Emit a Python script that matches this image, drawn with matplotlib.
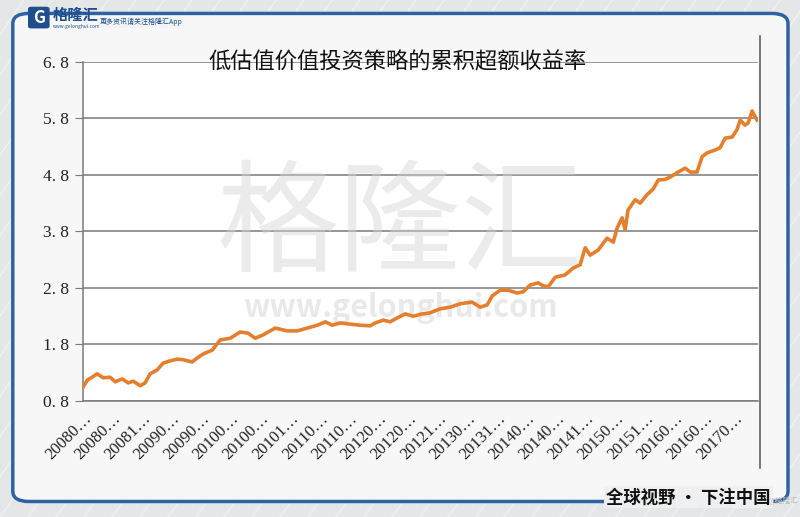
import matplotlib
matplotlib.use("Agg")
import matplotlib.pyplot as plt
from matplotlib.patches import FancyBboxPatch
from matplotlib.lines import Line2D

plt.rcParams['font.family'] = ['Noto Sans CJK SC', 'DejaVu Sans']

# position along the category axis (in label steps) and cumulative excess return
period = [0.00, 0.14, 0.30, 0.47, 0.68, 0.91, 1.08, 1.32, 1.52, 1.69, 1.93, 2.09,
          2.26, 2.50, 2.70, 2.94, 3.18, 3.38, 3.68, 3.85, 4.05, 4.36, 4.63, 4.97,
          5.30, 5.57, 5.81, 6.08, 6.49, 6.89, 7.23, 7.57, 7.91, 8.18, 8.41, 8.68,
          9.02, 9.36, 9.70, 9.86, 10.14, 10.37, 10.61, 10.88, 11.15, 11.45, 11.72,
          12.06, 12.40, 12.74, 13.14, 13.41, 13.65, 13.82, 14.09, 14.36, 14.66,
          14.86, 15.10, 15.37, 15.54, 15.71, 15.95, 16.28, 16.55, 16.79, 16.96,
          17.13, 17.40, 17.70, 17.91, 18.04, 18.21, 18.31, 18.41, 18.65, 18.82,
          19.05, 19.26, 19.43, 19.66, 19.83, 20.07, 20.34, 20.51, 20.74, 20.91,
          21.08, 21.35, 21.52, 21.69, 21.93, 22.09, 22.20, 22.36, 22.47, 22.60,
          22.70, 22.77]
excess = [1.05, 1.17, 1.22, 1.28, 1.21, 1.22, 1.14, 1.19, 1.12, 1.15, 1.07, 1.12,
          1.28, 1.35, 1.47, 1.51, 1.54, 1.53, 1.49, 1.56, 1.63, 1.70, 1.88, 1.91,
          2.02, 2.00, 1.91, 1.97, 2.09, 2.04, 2.04, 2.09, 2.14, 2.20, 2.14, 2.18,
          2.16, 2.14, 2.13, 2.18, 2.23, 2.20, 2.27, 2.34, 2.30, 2.34, 2.36,
          2.43, 2.46, 2.52, 2.55, 2.46, 2.50, 2.66, 2.76, 2.76, 2.71,
          2.73, 2.85, 2.89, 2.84, 2.82, 2.99, 3.03, 3.15, 3.21, 3.51,
          3.38, 3.47, 3.68, 3.61, 3.86, 4.04, 3.83, 4.18, 4.36, 4.30,
          4.45, 4.55, 4.71, 4.72, 4.76, 4.84, 4.92, 4.85, 4.85, 5.12,
          5.19, 5.24, 5.28, 5.45, 5.47, 5.60, 5.77, 5.68, 5.72, 5.93,
          5.83, 5.77]

x_labels = ["20080…", "20080…", "20081…", "20090…", "20090…", "20100…", "20100…",
            "20101…", "20110…", "20110…", "20120…", "20120…", "20121…", "20130…",
            "20131…", "20140…", "20140…", "20141…", "20150…", "20151…", "20160…",
            "20160…", "20170…"]
y_ticks = [0.8, 1.8, 2.8, 3.8, 4.8, 5.8, 6.8]
y_labels = ["0. 8", "1. 8", "2. 8", "3. 8", "4. 8", "5. 8", "6. 8"]

fig = plt.figure(figsize=(8, 5.17), dpi=100, facecolor='#E4E6E8')

# light diagonal stripes on the background
for i in range(-12, 40):
    x0 = i * 0.035
    fig.add_artist(Line2D([x0, x0 + 0.45], [0, 1], transform=fig.transFigure,
                          color='white', lw=0.8, alpha=0.5, zorder=-2))

panel = FancyBboxPatch((0.016, 0.03), 0.969, 0.944, boxstyle="round,pad=0,rounding_size=0.02",
                       transform=fig.transFigure, facecolor='#F7F7F8',
                       edgecolor='#2F62A0', lw=2.5, zorder=-1)
fig.add_artist(panel)

ax = fig.add_axes([0.104, 0.2244, 0.8435, 0.656])
ax.set_zorder(1)
ax.set_facecolor('white')
ax.plot(period, excess, color='#E47F2E', lw=2.6, solid_joinstyle='round', zorder=3)

ax.set_xlim(0, 22.8)
ax.set_ylim(0.8, 6.8)
ax.set_yticks(y_ticks)
ax.set_yticklabels(y_labels, family='Liberation Serif', fontsize=12.5, color='#222222')
ax.yaxis.grid(True, color='#7A7A7A', lw=1.1)
ax.set_axisbelow(True)
ax.tick_params(axis='y', length=6, color='#7A7A7A', pad=4)

ax.set_xticks(range(len(x_labels)))
ax.set_xticklabels(x_labels, rotation=45, ha='right', va='top', rotation_mode='anchor',
                   family=['Liberation Serif', 'DejaVu Sans'], fontsize=12, color='#222222')
ax.tick_params(axis='x', length=0, pad=7)
ax.set_xticks(range(0, len(x_labels), 2), minor=True)
ax.tick_params(axis='x', which='minor', length=6, color='#7A7A7A')

for side in ['top', 'right']:
    ax.spines[side].set_visible(False)
for side in ['left', 'bottom']:
    ax.spines[side].set_color('#7A7A7A')
    ax.spines[side].set_linewidth(1.1)

# right border line of the chart area
fig.add_artist(Line2D([0.95, 0.95], [0.095, 0.93], transform=fig.transFigure,
                      color='#555555', lw=1.1, zorder=2))

ax.text(0.497, 0.88, '低估值价值投资策略的累积超额收益率', transform=fig.transFigure,
        fontsize=16, fontweight='medium', color='#111111', ha='center', va='center', zorder=4)

# watermark
ax.text(0.5, 0.56, '格隆汇', transform=fig.transFigure, fontsize=88, color='#D4D4D4',
        alpha=0.45, ha='center', va='center', zorder=1)
ax.text(0.5, 0.405, 'www.gelonghui.com', transform=fig.transFigure, fontsize=22,
        color='#D4D4D4', alpha=0.5, ha='center', va='center', fontweight='bold', zorder=1)

# logo
fig.add_artist(FancyBboxPatch((0.035, 0.945), 0.027, 0.042, boxstyle="round,pad=0,rounding_size=0.004",
                              transform=fig.transFigure, facecolor='#1F4E8C', edgecolor='none'))
fig.text(0.0485, 0.966, 'G', fontsize=12, color='white', fontweight='bold', ha='center', va='center')
fig.text(0.066, 0.972, '格隆汇', fontsize=11, color='#1F4E8C', fontweight='bold', va='center')
fig.text(0.066, 0.948, 'www.gelonghui.com', fontsize=3.5, color='#1F4E8C', va='center')
fig.text(0.125, 0.957, '更多资讯请关注格隆汇App', fontsize=5, color='#1F4E8C', va='center',
         bbox=dict(facecolor='#F2F3F4', edgecolor='none', pad=1))

# slogan
fig.text(0.758, 0.038, '全球视野 · 下注中国', fontsize=12.5, fontweight='bold', color='#111111',
         va='center', bbox=dict(facecolor='#EEEFF0', edgecolor='none', pad=1.5))
fig.text(0.998, 0.03, '@格隆汇', fontsize=5.5, color='#BBBBBB', va='center', ha='right')

fig.savefig('out.png', dpi=100, facecolor=fig.get_facecolor())
